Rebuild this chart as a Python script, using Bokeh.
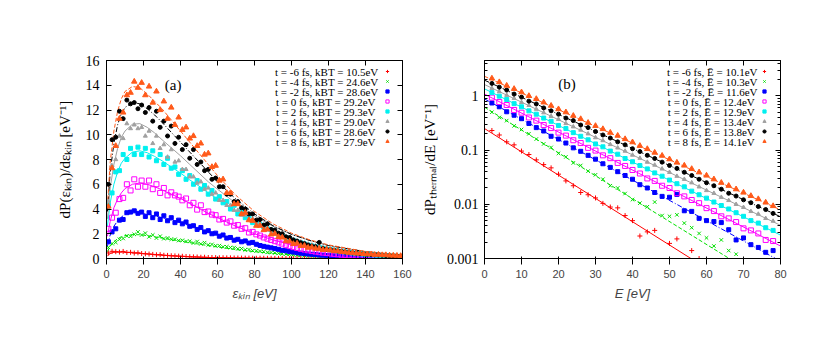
from bokeh.plotting import figure
from bokeh.models import (LinearAxis, LogAxis, FixedTicker, Label, Legend, LegendItem,
                          Range1d, CustomJSTickFormatter)
from bokeh.layouts import row
from bokeh.embed import file_html
from bokeh.resources import INLINE
import math

nan = float("nan")
FONT = "Liberation Serif"

# ---------------- panel (a) data ----------------
eps_kin = [1, 3, 5, 7, 9, 11, 13, 15, 17, 19,
           21, 23, 25, 27, 29, 31, 33, 35, 37, 39,
           41, 43, 45, 47, 49, 51, 53, 55, 57, 59,
           61, 63, 65, 67, 69, 71, 73, 75, 77, 79,
           81, 83, 85, 87, 89, 91, 93, 95, 97, 99,
           101, 103, 105, 107, 109, 111, 113, 115, 117, 119,
           121, 123, 125, 127, 129, 131, 133, 135, 137, 139,
           141, 143, 145, 147, 149, 151, 153, 155, 157, 159]

a_m6 = [.45, .58, .55, .52, .57, .48, .50, .44, .46, .40,
        .38, .36, .33, .30, .31, .26, .25, .22, .21, .19,
        .18, .16, .14, .13, .12, .10, .10, .08, .08, .07,
        .06, .06, .05, .05, .04, .04, .035, .03, .03, .025,
        .02, .025, .02, .015, .015, .01, .012, .01, .008, .01,
        .006, .008, .005, .006, .004, .005, .003, .004, .003, .002,
        .003, .002, .002, .001, .002, .001, .001, .001, 0, .001,
        0, .001, 0, 0, .001, 0, 0, 0, 0, 0]
a_m4 = [.9, 1.2, 1.3, 1.55, 1.62, 1.82, 1.8, 1.95, 2.15, 1.9,
        2.05, 1.75, 1.9, 1.65, 1.8, 1.6, 1.66, 1.55, 1.55, 1.45,
        1.47, 1.38, 1.4, 1.25, 1.37, 1.18, 1.28, 1.1, 1.14, 1.03,
        1.04, .94, .95, .88, .88, .78, .8, .7, .72, .63,
        .62, .58, .55, .50, .48, .45, .42, .38, .36, .33,
        .31, .28, .27, .24, .23, .21, .2, .18, .17, .15,
        .14, .13, .12, .11, .1, .09, .085, .08, .07, .065,
        .06, .055, .05, .05, .045, .04, .035, .035, .03, .03]
a_m2 = [1.35, 2.15, 2.4, 3.1, 3.15, 3.7, 3.75, 3.85, 3.65, 3.75,
        3.4, 3.7, 3.3, 3.6, 3.15, 3.45, 3.05, 3.3, 2.9, 3.1,
        2.8, 2.95, 2.6, 2.65, 2.35, 2.5, 2.15, 2.25, 2.0, 2.05,
        1.8, 1.9, 1.65, 1.7, 1.48, 1.55, 1.35, 1.42, 1.25, 1.3,
        1.15, 1.05, .98, .92, .86, .8, .74, .66, .62, .56,
        .52, .47, .43, .40, .36, .34, .31, .28, .27, .24,
        .23, .21, .19, .18, .16, .15, .14, .13, .12, .11,
        .10, .095, .09, .08, .075, .07, .065, .06, .055, .05]
a_0 = [2.4, 3.3, 3.7, 4.8, 4.9, 6.0, 5.5, 6.4, 5.8, 6.3,
       5.8, 6.3, 5.6, 6.0, 5.3, 5.7, 5.1, 5.35, 5.1, 5.0,
       4.7, 4.85, 4.3, 4.5, 3.95, 4.3, 3.75, 3.8, 3.55, 3.5,
       3.15, 3.2, 2.9, 3.0, 2.65, 2.7, 2.4, 2.45, 2.1, 2.15,
       1.95, 1.85, 1.7, 1.6, 1.5, 1.4, 1.3, 1.2, 1.1, 1.0,
       .92, .85, .78, .72, .66, .6, .56, .51, .47, .44,
       .4, .37, .34, .31, .29, .26, .24, .22, .2, .19,
       .17, .16, .15, .14, .13, .12, .11, .1, .09, .08]
a_2 = [4.3, 5.3, 7.0, 7.1, 8.4, 8.0, 8.9, 8.4, 9.0, 8.4,
       8.9, 8.2, 8.7, 7.9, 8.4, 7.6, 8.1, 7.3, 7.4, 6.8,
       7.1, 6.4, 6.7, 6.0, 6.3, 5.6, 5.9, 5.2, 5.5, 4.8,
       5.0, 4.5, 4.6, 4.0, 4.3, 3.6, 3.8, 3.3, 3.45, 2.9,
       2.9, 2.75, 2.55, 2.4, 2.3, 2.1, 1.95, 1.85, 1.7, 1.58,
       1.47, 1.37, 1.27, 1.18, 1.1, 1.02, .95, .88, .82, .76,
       .7, .65, .6, .56, .52, .48, .44, .41, .38, .35,
       .33, .3, .28, .26, .24, .22, .2, .19, .17, .16]
a_4 = [4.6, 7.5, 8.0, 9.9, 9.7, 10.9, 10.5, 10.8, 10.5, 10.6,
       9.9, 10.3, 9.3, 9.9, 8.9, 9.2, 8.2, 8.8, 7.8, 7.9,
       7.2, 7.2, 6.6, 6.6, 6.1, 6.2, 5.6, 5.7, 5.2, 5.3,
       4.7, 4.7, 4.3, 4.3, 3.9, 3.9, 3.5, 3.5, 3.15, 3.2,
       2.95, 2.8, 2.6, 2.45, 2.3, 2.15, 2.0, 1.88, 1.76, 1.65,
       1.54, 1.44, 1.34, 1.25, 1.17, 1.09, 1.02, .95, .88, .82,
       .77, .72, .67, .62, .58, .54, .5, .47, .44, .41,
       .38, .35, .33, .3, .28, .26, .24, .23, .21, .2]
a_6 = [6.0, 9.6, 9.8, 11.9, 11.3, 12.8, 12.5, 12.6, 12.1, 12.4,
       11.8, 12.2, 11.1, 11.9, 10.6, 11.1, 9.9, 10.7, 9.3, 9.8,
       8.8, 9.2, 8.1, 8.8, 7.6, 7.8, 7.1, 7.2, 6.4, 6.5,
       5.8, 5.8, 5.2, 5.2, 4.6, 4.6, 4.1, 4.0, 3.6, 3.6,
       3.1, 3.15, 2.7, 2.8, 2.35, 2.3, 2.05, 2.0, 1.75, 1.7,
       1.5, 1.4, 1.27, 1.2, 1.08, 1.0, .95, 1.3, .8, .75,
       .7, .66, .6, .57, .52, .49, .45, .43, .39, .37,
       .34, .32, .3, .28, .26, .24, .23, .21, .2, .19]
a_8 = [4.2, 7.3, 9.1, 11.3, 11.8, 13.2, 13.4, 14.3, 13.8, 14.2,
       13.2, 13.9, 12.6, 13.5, 12.0, 12.7, 11.3, 12.2, 10.8, 11.4,
       10.4, 10.6, 9.7, 9.9, 9.1, 9.3, 8.4, 8.5, 7.4, 7.5,
       6.3, 6.4, 5.3, 5.3, 4.4, 4.4, 3.6, 3.7, 3.1, 3.05,
       2.65, 2.65, 2.3, 2.35, 1.95, 2.0, 1.75, 1.7, 1.4, 1.38,
       1.18, 1.22, 1.02, 1.03, .88, .9, .8, .8, .7, .73,
       .67, .6, .6, .54, .52, .47, .46, .41, .41, .37,
       .35, .35, .3, .31, .28, .28, .25, .24, .23, .21]

fit_eps = [0.5, 2, 4, 6, 8, 10, 14, 18, 22, 26, 30, 35, 40, 45, 50, 55, 60,
           70, 80, 90, 100, 110, 120, 140, 160]
fa_m6 = [.22, .40, .50, .53, .53, .51, .47, .42, .37, .32, .27, .22, .18, .14, .11, .085, .065,
         .04, .024, .014, .008, .005, .003, .001, 0]
fa_m4 = [.55, 1.0, 1.35, 1.6, 1.75, 1.85, 1.93, 1.92, 1.85, 1.75, 1.65, 1.52, 1.4, 1.28, 1.16, 1.04, .93,
         .72, .55, .41, .31, .22, .16, .08, .04]
fa_m2 = [1.0, 1.9, 2.6, 3.05, 3.35, 3.55, 3.72, 3.7, 3.6, 3.45, 3.3, 3.1, 2.9, 2.65, 2.4, 2.15, 1.95,
         1.55, 1.2, .9, .68, .5, .37, .19, .1]
fa_0 = [1.8, 3.0, 4.1, 4.8, 5.3, 5.65, 6.0, 6.1, 6.0, 5.8, 5.55, 5.2, 4.85, 4.45, 4.05, 3.65, 3.3,
        2.6, 2.0, 1.5, 1.1, .8, .58, .3, .15]
fa_2 = [2.6, 4.5, 6.0, 7.0, 7.7, 8.1, 8.6, 8.7, 8.55, 8.25, 7.9, 7.4, 6.9, 6.35, 5.85, 5.3, 4.8,
        3.8, 2.95, 2.25, 1.65, 1.2, .87, .45, .22]
fa_4 = [3.2, 5.7, 7.6, 8.9, 9.8, 10.3, 10.85, 10.9, 10.6, 10.15, 9.6, 8.95, 8.3, 7.6, 6.9, 6.2, 5.6,
        4.45, 3.45, 2.6, 1.95, 1.45, 1.05, .55, .27]
fa_6 = [3.8, 7.0, 9.3, 10.8, 11.7, 12.2, 12.6, 12.5, 12.1, 11.6, 11.0, 10.2, 9.4, 8.6, 7.8, 7.0, 6.2,
        4.8, 3.6, 2.65, 1.95, 1.45, 1.05, .55, .28]
fa_8 = [4.3, 7.8, 10.3, 11.9, 12.9, 13.5, 13.9, 13.8, 13.3, 12.7, 12.1, 11.2, 10.3, 9.4, 8.5, 7.6, 6.7,
        5.1, 3.8, 2.8, 2.05, 1.5, 1.1, .57, .29]

labels_a = ["t = -6 fs, kBT = 10.5eV", "t = -4 fs, kBT = 24.6eV", "t = -2 fs, kBT = 28.6eV",
            "t =  0 fs, kBT = 29.2eV", "t =  2 fs, kBT = 29.3eV", "t =  4 fs, kBT = 29.0eV",
            "t =  6 fs, kBT = 28.6eV", "t =  8 fs, kBT = 27.9eV"]
x_ticks_a = [0, 20, 40, 60, 80, 100, 120, 140, 160]
y_ticks_a = [0, 2, 4, 6, 8, 10, 12, 14, 16]

# ---------------- panel (b) data ----------------
E_th = [2, 4, 6, 8, 10, 12, 14, 16, 18, 20,
        22, 24, 26, 28, 30, 32, 34, 36, 38, 40,
        42, 44, 46, 48, 50, 52, 54, 56, 58, 60,
        62, 64, 66, 68, 70, 72, 74, 76, 78]
b_m6 = [.23, .19, .142, .125, .096, .083, .066, .054, .047, .036,
        .027, .022, .0165, .0150, .0131, .0104, .0089, .0086, .0062, .0050,
        .0026, .0031, .0033, nan, .0019, .0023, nan, .0014, .0010, nan,
        nan, nan, nan, nan, nan, nan, nan, nan, nan]
b_m4 = [.50, .40, .35, .28, .24, .20, .16, .13, .112, .087,
        .075, .058, .052, .041, .035, .029, .022, .020, .0158, .0122,
        .0105, .0090, .0110, .0062, .0060, .0064, .0045, .0037, .0029, .0024,
        .0017, .0022, .0014, .0012, nan, nan, nan, nan, nan]
b_m2 = [.74, .63, .51, .44, .38, .31, .26, .225, .18, .16,
        .135, .11, .095, .08, .068, .056, .048, .04, .034, .029,
        .023, .02, .0165, .014, .0135, .0152, .0076, .0074, .0055, .005,
        .0048, .0046, .0034, .0022, .0024, .0018, .0016, .0013, .0014]
b_0 = [.93, .77, .68, .55, .49, .40, .35, .29, .255, .21,
       .185, .152, .135, .11, .098, .08, .071, .058, .051, .043,
       .037, .030, .027, .022, .020, .016, .014, .012, .0105, .0085,
       .0075, .006, .0055, .0047, .0036, .0033, .0029, .0022, .0021]
b_2 = [1.15, .99, .86, .72, .63, .53, .46, .39, .34, .285,
       .25, .21, .18, .155, .13, .115, .096, .084, .07, .061,
       .052, .045, .038, .033, .028, .024, .021, .0175, .015, .013,
       .011, .0095, .0082, .007, .006, .005, .0045, .0037, .0033]
b_4 = [1.38, 1.2, 1.03, .9, .76, .67, .57, .49, .42, .37,
       .31, .27, .235, .2, .17, .15, .127, .11, .096, .081,
       .071, .06, .053, .045, .039, .033, .029, .025, .021, .018,
       .016, .0135, .0118, .01, .0088, .0074, .0066, .0055, .0049]
b_6 = [1.7, 1.45, 1.28, 1.08, .95, .8, .71, .6, .53, .46,
       .39, .35, .29, .26, .22, .19, .167, .142, .125, .106,
       .094, .08, .07, .06, .052, .046, .039, .034, .029, .025,
       .022, .019, .016, .0142, .0121, .0107, .0091, .008, .0068]
b_8 = [2.1, 1.8, 1.55, 1.35, 1.17, 1.0, .88, .76, .66, .57,
       .5, .43, .375, .32, .28, .245, .21, .185, .16, .14,
       .12, .105, .09, .079, .068, .059, .052, .045, .039, .034,
       .029, .025, .022, .019, .0165, .0143, .0125, .0108, .0093]

fit_E = [0, 80]
fb_m6 = [0.25, 0.000091]
fb_m4 = [0.62, 0.00026]
fb_m2 = [0.88, 0.00089]
fb_0 = [1.08, 0.0017]
fb_2 = [1.35, 0.0027]
fb_4 = [1.62, 0.0041]
fb_6 = [1.95, 0.0059]
fb_8 = [2.3, 0.0079]

labels_b = ["t = -6 fs, Ē = 10.1eV", "t = -4 fs, Ē = 10.3eV", "t = -2 fs, Ē = 11.6eV",
            "t =  0 fs, Ē = 12.4eV", "t =  2 fs, Ē = 12.9eV", "t =  4 fs, Ē = 13.4eV",
            "t =  6 fs, Ē = 13.8eV", "t =  8 fs, Ē = 14.1eV"]
x_ticks_b = [0, 10, 20, 30, 40, 50, 60, 70, 80]
y_ticks_b = [0.001, 0.01, 0.1, 1]

# ---------------- styles ----------------
colors = ["#ff0000", "#00e000", "#0000ff", "#ff00ff", "#00f0f0", "#a0a0a0", "#000000", "#ff5a1a"]
markers = ["cross", "x", "square", "square", "square", "triangle", "circle", "triangle"]
sizes = [5, 5, 4, 5, 4, 4, 4, 5.5]
filled = [True, True, True, False, True, True, True, True]
dashes = ["solid", "4 2", "5 2 1 2", "solid", "solid", "solid", "5 2 1 2", "4 2"]

FW, FH = 296, 198
BLANK = CustomJSTickFormatter(code="return '';")


def style_axis(ax, mirror=False):
    ax.axis_line_color = "black"
    ax.axis_line_width = 1
    ax.major_tick_in = 5
    ax.major_tick_out = 0
    ax.major_tick_line_color = "black"
    ax.minor_tick_in = 3
    ax.minor_tick_out = 0
    ax.minor_tick_line_color = "black"
    ax.major_label_text_font = FONT
    ax.major_label_text_font_size = "14px"
    ax.major_label_text_color = "black"
    ax.axis_label_text_font = FONT
    ax.axis_label_text_font_size = "15px"
    ax.axis_label_text_font_style = "normal"
    ax.axis_label_text_color = "black"
    if mirror:
        ax.major_label_standoff = 0


def make_fig(x_range, y_range, y_type, left_border, right_border):
    p = figure(frame_width=FW, frame_height=FH, x_range=x_range, y_range=y_range,
               y_axis_type=y_type, min_border_left=left_border, min_border_right=right_border,
               min_border_top=60, min_border_bottom=60, output_backend="svg",
               toolbar_location=None, background_fill_color="white",
               border_fill_color="white")
    p.grid.visible = False
    p.outline_line_color = "black"
    p.outline_line_width = 1
    return p


def legend_rows(p, texts, renderers, x_text, ymin, ymax, log, leg_x):
    n = len(texts)
    row_h = 10
    top_off = 6
    for i, t in enumerate(texts):
        frac = (top_off + row_h * i + row_h / 2) / FH
        if log:
            lo, hi = math.log10(ymin), math.log10(ymax)
            yv = 10 ** (hi - frac * (hi - lo))
        else:
            yv = ymax - frac * (ymax - ymin)
        p.add_layout(Label(x=x_text, y=yv, text=t, text_align="right", text_baseline="middle",
                           text_font=FONT, text_font_size="11px", text_color="black"))
    items = [LegendItem(label=" ", renderers=[r]) for r in renderers]
    leg = Legend(items=items, location=(leg_x, FH - top_off - row_h * n),
                 orientation="vertical", padding=0, margin=0, spacing=0,
                 glyph_width=8, glyph_height=row_h, label_width=0, label_height=row_h,
                 label_standoff=0, label_text_font_size="6px",
                 border_line_alpha=0, background_fill_alpha=0)
    p.add_layout(leg)


# ---------------- panel (a) ----------------
p1 = make_fig(Range1d(0, 160), Range1d(0, 16), "linear", 106, 12)
p1.xaxis.ticker = FixedTicker(ticks=x_ticks_a)
p1.yaxis.ticker = FixedTicker(ticks=y_ticks_a)
p1.xaxis.axis_label = "εₖᵢₙ [eV]"
p1.yaxis.axis_label = "dP(εₖᵢₙ)/dεₖᵢₙ [eV⁻¹]"
top1 = LinearAxis(ticker=FixedTicker(ticks=x_ticks_a), formatter=BLANK)
right1 = LinearAxis(ticker=FixedTicker(ticks=y_ticks_a), formatter=BLANK)
p1.add_layout(top1, "above")
p1.add_layout(right1, "right")
for ax in [p1.xaxis[0], p1.yaxis[0]]:
    style_axis(ax)
    ax.minor_tick_line_color = None
for ax in [top1, right1]:
    style_axis(ax, mirror=True)
    ax.minor_tick_line_color = None
p1.xaxis[0].major_label_standoff = 6
p1.xaxis[0].axis_label_standoff = 4
p1.yaxis[0].major_label_standoff = 7
p1.yaxis[0].axis_label_standoff = 10

series_a = [a_m6, a_m4, a_m2, a_0, a_2, a_4, a_6, a_8]
fits_a = [fa_m6, fa_m4, fa_m2, fa_0, fa_2, fa_4, fa_6, fa_8]
rend_a = []
for i in range(8):
    c = colors[i]
    p1.line(fit_eps, fits_a[i], line_color=c, line_width=1, line_dash=dashes[i])
for i in range(8):
    c = colors[i]
    r = p1.scatter(eps_kin, series_a[i], marker=markers[i], size=sizes[i], line_color=c,
                   fill_color=c if filled[i] else None, line_width=1)
    rend_a.append(r)
legend_rows(p1, labels_a, rend_a, 147, 0, 16, False, 277)
p1.add_layout(Label(x=36, y=14.0, text="(a)", text_align="center", text_baseline="middle",
                    text_font=FONT, text_font_size="15px", text_color="black"))

# ---------------- panel (b) ----------------
YMIN_B, YMAX_B = 0.001, 4.5
p2 = make_fig(Range1d(0, 80), Range1d(YMIN_B, YMAX_B), "log", 70, 20)
minor_b = [m * d for d in [0.001, 0.01, 0.1, 1] for m in range(2, 10) if m * d <= YMAX_B]
p2.xaxis.ticker = FixedTicker(ticks=x_ticks_b)
p2.yaxis.ticker = FixedTicker(ticks=y_ticks_b, minor_ticks=minor_b)
p2.yaxis.formatter = CustomJSTickFormatter(code="return String(tick);")
p2.xaxis.axis_label = "E [eV]"
p2.yaxis.axis_label = "dPₜₕₑᵣₘₐₗ/dE [eV⁻¹]"
top2 = LinearAxis(ticker=FixedTicker(ticks=x_ticks_b), formatter=BLANK)
right2 = LogAxis(ticker=FixedTicker(ticks=y_ticks_b, minor_ticks=minor_b), formatter=BLANK)
p2.add_layout(top2, "above")
p2.add_layout(right2, "right")
style_axis(p2.xaxis[0])
p2.xaxis[0].minor_tick_line_color = None
style_axis(p2.yaxis[0])
style_axis(top2, mirror=True)
top2.minor_tick_line_color = None
style_axis(right2, mirror=True)
p2.xaxis[0].major_label_standoff = 6
p2.xaxis[0].axis_label_standoff = 4
p2.yaxis[0].major_label_standoff = 6
p2.yaxis[0].axis_label_standoff = 6

series_b = [b_m6, b_m4, b_m2, b_0, b_2, b_4, b_6, b_8]
fits_b = [fb_m6, fb_m4, fb_m2, fb_0, fb_2, fb_4, fb_6, fb_8]
rend_b = []
for i in range(8):
    p2.line(fit_E, fits_b[i], line_color=colors[i], line_width=1, line_dash=dashes[i])
for i in range(8):
    c = colors[i]
    r = p2.scatter(E_th, series_b[i], marker=markers[i], size=sizes[i], line_color=c,
                   fill_color=c if filled[i] else None, line_width=1)
    rend_b.append(r)
legend_rows(p2, labels_b, rend_b, 73.8, YMIN_B, YMAX_B, True, 276)
p2.add_layout(Label(x=22.3, y=1.64, text="(b)", text_align="center", text_baseline="middle",
                    text_font=FONT, text_font_size="15px", text_color="black"))

layout = row(p1, p2)
open("out.html", "w").write(file_html(layout, INLINE))
